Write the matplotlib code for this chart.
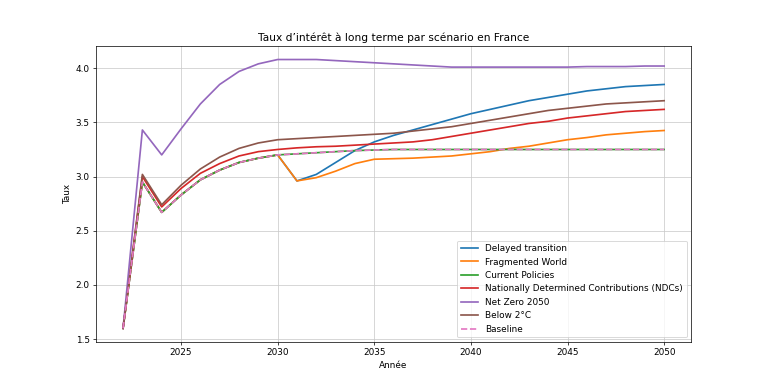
import matplotlib
matplotlib.use('Agg')
from matplotlib import pyplot as plt

years = list(range(2022, 2051))

common = [1.60, 2.95, 2.67, 2.83, 2.97, 3.06, 3.13, 3.17, 3.20]

baseline = common + [3.21, 3.22, 3.23, 3.24, 3.245, 3.25, 3.25, 3.25, 3.25, 3.25,
                     3.25, 3.25, 3.25, 3.25, 3.25, 3.25, 3.25, 3.25, 3.25, 3.25]
current = list(baseline)
fragmented = common + [2.96, 2.99, 3.05, 3.12, 3.16, 3.165, 3.17, 3.18, 3.19, 3.21,
                       3.23, 3.26, 3.28, 3.31, 3.34, 3.36, 3.385, 3.40, 3.415, 3.425]
delayed = common + [2.96, 3.02, 3.13, 3.24, 3.32, 3.38, 3.43, 3.48, 3.53, 3.58,
                    3.62, 3.66, 3.70, 3.73, 3.76, 3.79, 3.81, 3.83, 3.84, 3.85]
ndcs = [1.60, 3.00, 2.72, 2.89, 3.03, 3.12, 3.19, 3.23, 3.25, 3.265, 3.275, 3.28,
        3.29, 3.30, 3.31, 3.32, 3.34, 3.37, 3.40, 3.43, 3.46, 3.49, 3.51, 3.54,
        3.56, 3.58, 3.60, 3.61, 3.62]
netzero = [1.60, 3.43, 3.20, 3.44, 3.67, 3.85, 3.97, 4.04, 4.08, 4.08, 4.08, 4.07,
           4.06, 4.05, 4.04, 4.03, 4.02, 4.01, 4.01, 4.01, 4.01, 4.01, 4.01, 4.01,
           4.015, 4.015, 4.015, 4.02, 4.02]
below2 = [1.60, 3.02, 2.74, 2.92, 3.07, 3.18, 3.26, 3.31, 3.34, 3.35, 3.36, 3.37,
          3.38, 3.39, 3.40, 3.42, 3.44, 3.46, 3.49, 3.52, 3.55, 3.58, 3.61, 3.63,
          3.65, 3.67, 3.68, 3.69, 3.70]

fig = plt.figure(figsize=(12, 6), dpi=64)

lw = 1.9
plt.plot(years, delayed, lw=lw, label='Delayed transition')
plt.plot(years, fragmented, lw=lw, label='Fragmented World')
plt.plot(years, current, lw=lw, label='Current Policies')
plt.plot(years, ndcs, lw=lw, label='Nationally Determined Contributions (NDCs)')
plt.plot(years, netzero, lw=lw, label='Net Zero 2050')
plt.plot(years, below2, lw=lw, label='Below 2°C')
plt.plot(years, baseline, '--', lw=lw, label='Baseline')

plt.title('Taux d’intérêt à long terme par scénario en France')
plt.xlabel('Année')
plt.ylabel('Taux')
plt.legend(loc='lower right')
plt.grid(True, color='#c8c8c8')

plt.savefig('out.png', dpi=64)
